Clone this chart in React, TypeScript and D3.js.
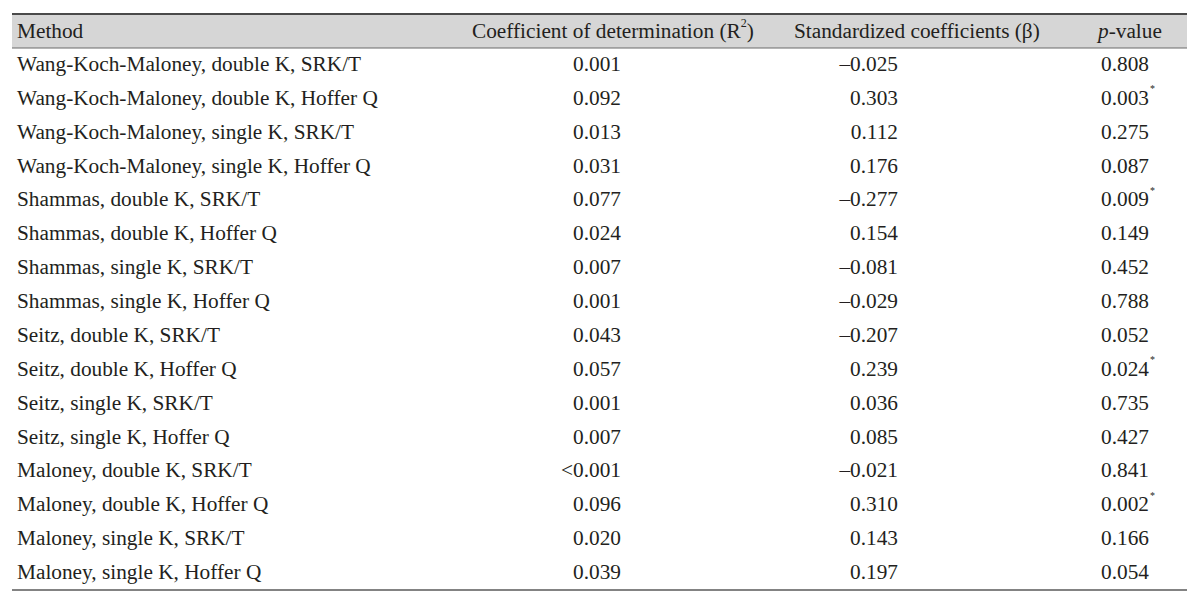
import * as d3 from "d3";

const methods = [
  "Wang-Koch-Maloney, double K, SRK/T",
  "Wang-Koch-Maloney, double K, Hoffer Q",
  "Wang-Koch-Maloney, single K, SRK/T",
  "Wang-Koch-Maloney, single K, Hoffer Q",
  "Shammas, double K, SRK/T",
  "Shammas, double K, Hoffer Q",
  "Shammas, single K, SRK/T",
  "Shammas, single K, Hoffer Q",
  "Seitz, double K, SRK/T",
  "Seitz, double K, Hoffer Q",
  "Seitz, single K, SRK/T",
  "Seitz, single K, Hoffer Q",
  "Maloney, double K, SRK/T",
  "Maloney, double K, Hoffer Q",
  "Maloney, single K, SRK/T",
  "Maloney, single K, Hoffer Q",
];

const r2 = [
  "0.001", "0.092", "0.013", "0.031", "0.077", "0.024", "0.007", "0.001",
  "0.043", "0.057", "0.001", "0.007", "<0.001", "0.096", "0.020", "0.039",
];

const beta = [
  "–0.025", "0.303", "0.112", "0.176", "–0.277", "0.154", "–0.081", "–0.029",
  "–0.207", "0.239", "0.036", "0.085", "–0.021", "0.310", "0.143", "0.197",
];

const pValues = [
  "0.808", "0.003", "0.275", "0.087", "0.009", "0.149", "0.452", "0.788",
  "0.052", "0.024", "0.735", "0.427", "0.841", "0.002", "0.166", "0.054",
];

const significant = [
  false, true, false, false, true, false, false, false,
  false, true, false, false, false, true, false, false,
];

export default function App() {
  const W = 1200;
  const H = 601;
  const left = 12;
  const right = 1187;
  const top = 14;
  const headBottom = 48;
  const bottom = 590;
  const font = "'Liberation Serif', 'Times New Roman', serif";
  const fs = 21.3;
  const ink = "#231f20";

  const y = d3.scaleBand<number>()
    .domain(d3.range(methods.length))
    .range([headBottom - 1, bottom - 1]);

  const headY = (top + headBottom) / 2;

  return (
    <svg width={W} height={H} style={{ position: "absolute", left: 0, top: 0, background: "#fff" }}>
      <rect x={left} y={top} width={right - left} height={headBottom - top} fill="#d6d6d6" />
      <line x1={left} x2={right} y1={top} y2={top} stroke="#4a4a4a" strokeWidth={2} />
      <line x1={left} x2={right} y1={headBottom} y2={headBottom} stroke="#6a6a6a" strokeWidth={1.2} />
      <line x1={left} x2={right} y1={bottom} y2={bottom} stroke="#5a5a5a" strokeWidth={1.5} />

      <g fontFamily={font} fontSize={fs} fill={ink} dominantBaseline="central">
        <text x={17} y={headY}>Method</text>
        <text x={472} y={headY}>
          Coefficient of determination (R
          <tspan fontSize={12} dy={-8}>2</tspan>
          <tspan dy={8}>)</tspan>
        </text>
        <text x={794} y={headY}>Standardized coefficients (β)</text>
        <text x={1098} y={headY}>
          <tspan fontStyle="italic">p</tspan>-value
        </text>

        {methods.map((m, i) => {
          const cy = (y(i) ?? 0) + y.bandwidth() / 2;
          return (
            <g key={m}>
              <text x={17} y={cy}>{m}</text>
              <text x={621} y={cy} textAnchor="end">{r2[i]}</text>
              <text x={898} y={cy} textAnchor="end">{beta[i]}</text>
              <text x={1149} y={cy} textAnchor="end">{pValues[i]}</text>
              {significant[i] && (
                <text x={1150} y={cy - 9} fontSize={10}>*</text>
              )}
            </g>
          );
        })}
      </g>
    </svg>
  );
}
